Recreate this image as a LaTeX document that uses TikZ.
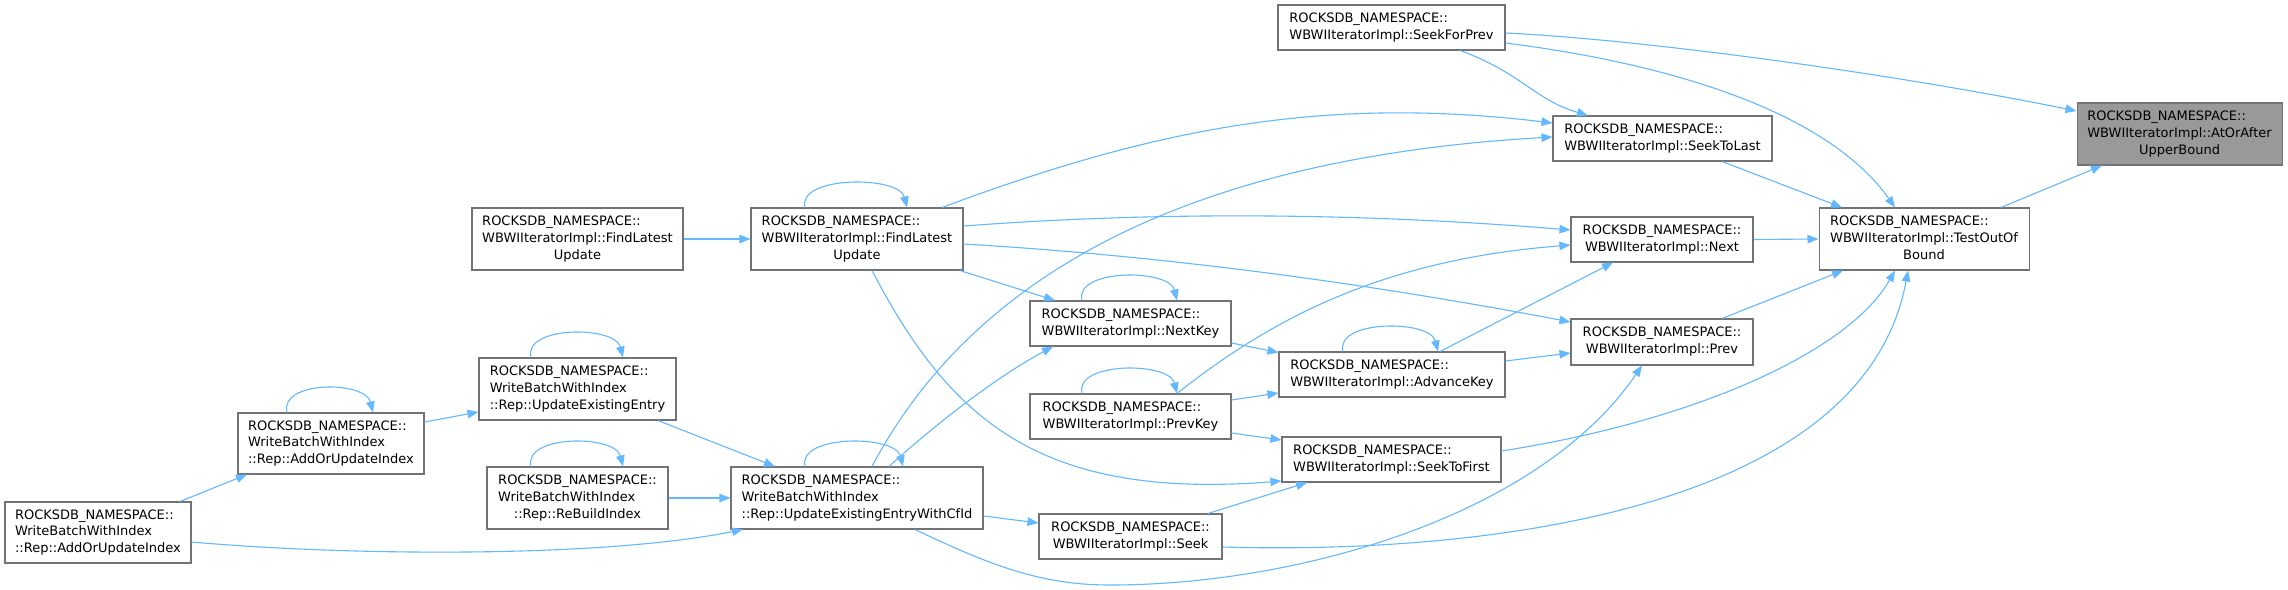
\documentclass[tikz,border=0pt]{standalone}
\usepackage{fontspec}
\setmainfont{DejaVu Sans}
\usetikzlibrary{arrows.meta,calc}
\definecolor{edgec}{HTML}{63B8FF}
\definecolor{nodeborder}{HTML}{737373}
\definecolor{rootfill}{HTML}{999999}
\newcommand{\twol}[2]{\begin{tabular}{@{}l@{}}#1\\\multicolumn{1}{@{}c@{}}{#2}\end{tabular}}
\newcommand{\threel}[3]{\begin{tabular}{@{}l@{}}#1\\#2\\\multicolumn{1}{@{}c@{}}{#3}\end{tabular}}
\newcommand{\rocksns}{ROCKSDB\_NAMESPACE::}
\begin{document}
\begin{tikzpicture}[x=1pt,y=-1pt,
  fnode/.style={draw=nodeborder, line width=1.05pt, fill=white, inner sep=0pt,
    font=\fontsize{13}{16.7}\selectfont, text=black},
  rootnode/.style={fnode, fill=rootfill},
  sz/.style 2 args={minimum width=#1pt, minimum height=#2pt},
  edge/.style={draw=edgec, line width=1.1pt, -{Triangle[length=11pt,width=8.5pt]}},
  loopedge/.style={edge}
]
\fill[white] (0,0) rectangle (2288,589);
\useasboundingbox (0,0) rectangle (2288,589);

% nodes
\node[rootnode, sz={205}{62}] (atorafter) at (2179.5,134) {\threel{\rocksns}{WBWIIteratorImpl::AtOrAfter}{UpperBound}};
\node[fnode, sz={210}{62}] (testout) at (1924,239) {\threel{\rocksns}{WBWIIteratorImpl::TestOutOf}{Bound}};
\node[fnode, sz={227}{45}] (seekforprev) at (1391.5,27.5) {\twol{\rocksns}{WBWIIteratorImpl::SeekForPrev}};
\node[fnode, sz={219}{45}] (seektolast) at (1662.5,138.5) {\twol{\rocksns}{WBWIIteratorImpl::SeekToLast}};
\node[fnode, sz={182}{45}] (next) at (1662,239.5) {\twol{\rocksns}{WBWIIteratorImpl::Next}};
\node[fnode, sz={182}{46}] (prev) at (1662,342) {\twol{\rocksns}{WBWIIteratorImpl::Prev}};
\node[fnode, sz={226}{45}] (advancekey) at (1392,374.5) {\twol{\rocksns}{WBWIIteratorImpl::AdvanceKey}};
\node[fnode, sz={219}{45}] (seektofirst) at (1391.5,459.5) {\twol{\rocksns}{WBWIIteratorImpl::SeekToFirst}};
\node[fnode, sz={212}{62}] (flu) at (857,239) {\threel{\rocksns}{WBWIIteratorImpl::FindLatest}{Update}};
\node[fnode, sz={201}{45}] (nextkey) at (1130.5,323.5) {\twol{\rocksns}{WBWIIteratorImpl::NextKey}};
\node[fnode, sz={201}{45}] (prevkey) at (1130.5,416.5) {\twol{\rocksns}{WBWIIteratorImpl::PrevKey}};
\node[fnode, sz={183}{45}] (seek) at (1130.5,536.5) {\twol{\rocksns}{WBWIIteratorImpl::Seek}};
\node[fnode, sz={252}{62}] (ueewcfid) at (857,498) {\threel{\rocksns}{WriteBatchWithIndex}{::Rep::UpdateExistingEntryWithCfId}};
\node[fnode, sz={211}{62}] (fluleft) at (577.5,239) {\threel{\rocksns}{WBWIIteratorImpl::FindLatest}{Update}};
\node[fnode, sz={197}{62}] (uee) at (577.5,389) {\threel{\rocksns}{WriteBatchWithIndex}{::Rep::UpdateExistingEntry}};
\node[fnode, sz={181}{62}] (rebuild) at (577.5,498) {\threel{\rocksns}{WriteBatchWithIndex}{::Rep::ReBuildIndex}};
\node[fnode, sz={186}{61}] (aouimid) at (331,443.5) {\threel{\rocksns}{WriteBatchWithIndex}{::Rep::AddOrUpdateIndex}};
\node[fnode, sz={186}{61}] (aouileft) at (98,532.5) {\threel{\rocksns}{WriteBatchWithIndex}{::Rep::AddOrUpdateIndex}};

% edges
\draw[edge] ($(testout.north)+(77,0)$) -- ($(atorafter.south)+(-77.5,0)$);
\draw[edge] ($(seekforprev.east)+(0,5.5)$) .. controls (1650,40) and (1900,75) .. ($(atorafter.west)+(0,-23)$);
\draw[edge] ($(seekforprev.east)+(0,15.5)$) .. controls (1680,65) and (1830,115) .. ($(testout.north)+(-29,0)$);
\draw[edge] ($(seekforprev.south)+(68.5,0)$) .. controls (1520,72) and (1535,100) .. ($(seektolast.north)+(-74.5,0)$);
\draw[edge] ($(seektolast.south)+(59.5,0)$) -- ($(testout.north)+(-82,0)$);
\draw[edge] (next.east) -- (testout.west);
\draw[edge] ($(prev.north)+(60,0)$) -- ($(testout.south)+(-81,0)$);
\draw[edge] ($(seektofirst.east)+(0,-8.5)$) .. controls (1700,420) and (1850,350) .. ($(testout.south)+(-29,0)$);
\draw[edge] ($(seek.east)+(0,10.5)$) .. controls (1500,555) and (1865,505) .. ($(testout.south)+(-16,0)$);
\draw[edge] ($(flu.north)+(85,0)$) .. controls (1150,130) and (1320,95) .. ($(seektolast.west)+(0,-15.5)$);
\draw[edge] ($(ueewcfid.north)+(15,0)$) .. controls (960,300) and (1150,160) .. ($(seektolast.west)+(0,-1.5)$);
\draw[edge] ($(flu.east)+(0,-13)$) .. controls (1150,212) and (1350,212) .. ($(next.west)+(0,-9.5)$);
\draw[edge] ($(flu.east)+(0,5)$) .. controls (1150,255) and (1350,280) .. ($(prev.west)+(0,-20)$);
\draw[edge] ($(flu.south)+(103,0)$) -- ($(nextkey.north)+(-75.5,0)$);
\draw[edge] ($(flu.south)+(15,0)$) .. controls (950,420) and (1040,500) .. ($(seektofirst.west)+(0,21.5)$);
\draw[edge] ($(prevkey.north)+(46.5,0)$) .. controls (1270,320) and (1380,260) .. ($(next.west)+(0,5.5)$);
\draw[edge] ($(prevkey.east)+(0,-16.5)$) -- ($(advancekey.west)+(0,18.5)$);
\draw[edge] ($(nextkey.east)+(0,19.5)$) -- ($(advancekey.west)+(0,-22)$);
\draw[edge] ($(prevkey.east)+(0,16.5)$) -- ($(seektofirst.west)+(0,-19.5)$);
\draw[edge] ($(advancekey.north)+(48,0)$) -- ($(next.south)+(-49,0)$);
\draw[edge] ($(advancekey.east)+(0,-13.5)$) -- ($(prev.west)+(0,11)$);
\draw[edge] (fluleft.east) -- (flu.west);
\draw[edge] ($(uee.south)+(80.5,0)$) -- ($(ueewcfid.north)+(-82,0)$);
\draw[edge] (rebuild.east) -- (ueewcfid.west);
\draw[edge] ($(aouileft.east)+(0,9.5)$) .. controls (350,556) and (600,558) .. ($(ueewcfid.south)+(-114,0)$);
\draw[edge] ($(aouileft.north)+(82,0)$) -- ($(aouimid.south)+(-84,0)$);
\draw[edge] ($(aouimid.east)+(0,-21.5)$) -- ($(uee.west)+(0,23)$);
\draw[edge] ($(ueewcfid.north)+(32,0)$) .. controls (940,420) and (1000,375) .. ($(nextkey.south)+(-77.5,0)$);
\draw[edge] ($(ueewcfid.east)+(0,18)$) -- ($(seek.west)+(0,-13.5)$);
\coordinate (dip) at (1110,585);
\draw[edge] ($(ueewcfid.south)+(58,0)$) .. controls (990,565) and (1040,585) .. (dip) .. controls (1300,585) and (1540,515) .. ($(prev.south)+(-20,0)$);
\draw[edge] ($(seek.north)+(77.5,0)$) -- ($(seektofirst.south)+(-84.5,0)$);

% self loops
\draw[loopedge] ($(flu.north)+(-52,0)$) .. controls +(-8,-32) and +(-8,-32) .. ($(flu.north)+(50,0)$);
\draw[loopedge] ($(nextkey.north)+(-48.5,0)$) .. controls +(-8,-32) and +(-8,-32) .. ($(nextkey.north)+(46.5,0)$);
\draw[loopedge] ($(prevkey.north)+(-48.5,0)$) .. controls +(-8,-32) and +(-8,-32) .. ($(prevkey.north)+(46.5,0)$);
\draw[loopedge] ($(advancekey.north)+(-49,0)$) .. controls +(-8,-32) and +(-8,-32) .. ($(advancekey.north)+(46,0)$);
\draw[loopedge] ($(ueewcfid.north)+(-52,0)$) .. controls +(-8,-32) and +(-8,-32) .. ($(ueewcfid.north)+(46,0)$);
\draw[loopedge] ($(uee.north)+(-46.5,0)$) .. controls +(-8,-32) and +(-8,-32) .. ($(uee.north)+(45.5,0)$);
\draw[loopedge] ($(rebuild.north)+(-46.5,0)$) .. controls +(-8,-32) and +(-8,-32) .. ($(rebuild.north)+(45.5,0)$);
\draw[loopedge] ($(aouimid.north)+(-44,0)$) .. controls +(-8,-32) and +(-8,-32) .. ($(aouimid.north)+(42,0)$);
\end{tikzpicture}
\end{document}
